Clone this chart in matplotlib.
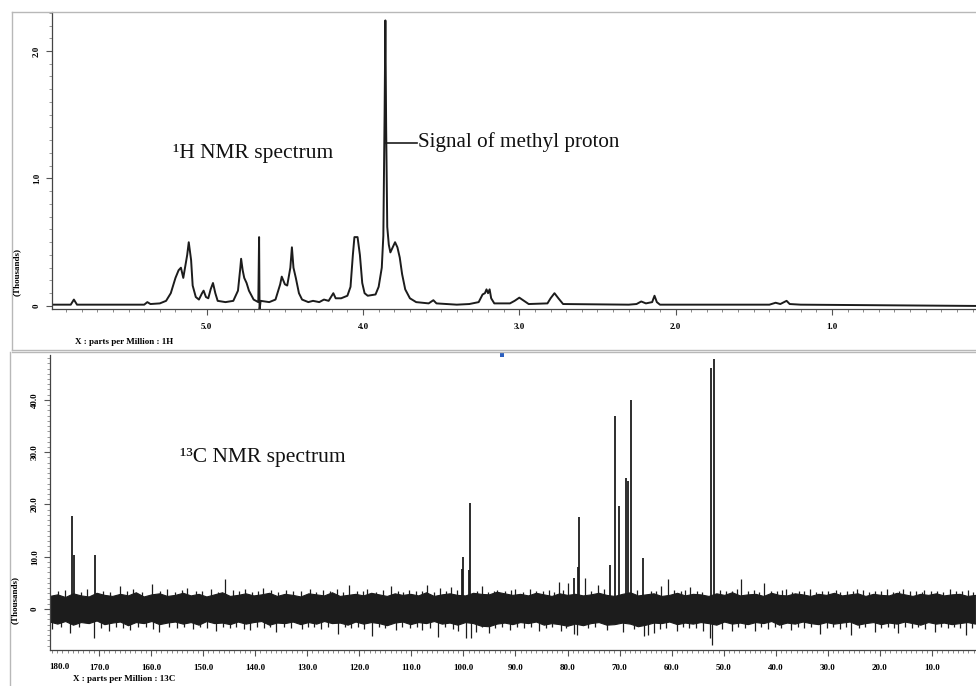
import numpy as np
import matplotlib
matplotlib.use('Agg')
import matplotlib.pyplot as plt
from matplotlib.ticker import MultipleLocator, FixedLocator, FixedFormatter
from matplotlib.patches import Rectangle
from matplotlib.lines import Line2D

plt.rcParams['font.family'] = ['Liberation Serif', 'DejaVu Serif']

# ---------------- 1H NMR trace (ppm, intensity in thousands) ----------------
h_ppm = [5.99, 5.87, 5.85, 5.83, 5.60, 5.40, 5.38, 5.36, 5.30, 5.26, 5.23, 5.20, 5.18,
         5.165, 5.15, 5.14, 5.125, 5.115, 5.10, 5.09, 5.07, 5.05, 5.03, 5.02, 5.005,
         4.99, 4.975, 4.96, 4.945, 4.93, 4.88, 4.83, 4.80, 4.785, 4.78, 4.77, 4.76,
         4.745, 4.73, 4.70, 4.67, 4.665, 4.662, 4.655, 4.60, 4.56, 4.53, 4.52, 4.50,
         4.485, 4.465, 4.455, 4.445, 4.43, 4.41, 4.39, 4.35, 4.32, 4.28, 4.25, 4.22,
         4.20, 4.19, 4.175, 4.14, 4.10, 4.08, 4.065, 4.055, 4.035, 4.02, 4.005, 3.99,
         3.97, 3.92, 3.90, 3.88, 3.87, 3.862, 3.857, 3.852, 3.845, 3.835, 3.825, 3.81,
         3.795, 3.78, 3.765, 3.75, 3.73, 3.70, 3.66, 3.58, 3.55, 3.53, 3.40, 3.32,
         3.26, 3.235, 3.22, 3.21, 3.20, 3.19, 3.18, 3.16, 3.06, 3.03, 3.00, 2.97, 2.94,
         2.82, 2.80, 2.775, 2.75, 2.72, 2.30, 2.25, 2.22, 2.19, 2.15, 2.135, 2.12, 2.10,
         1.60, 1.40, 1.36, 1.33, 1.29, 1.27, 1.20, 0.08]
h_int = [0.01, 0.01, 0.05, 0.01, 0.01, 0.01, 0.03, 0.015, 0.02, 0.04, 0.10, 0.22, 0.28,
         0.30, 0.22, 0.29, 0.40, 0.50, 0.36, 0.16, 0.07, 0.05, 0.10, 0.12, 0.07,
         0.06, 0.13, 0.18, 0.10, 0.04, 0.03, 0.04, 0.12, 0.30, 0.37, 0.28, 0.22,
         0.18, 0.12, 0.05, 0.03, 0.54, -0.03, 0.04, 0.03, 0.05, 0.17, 0.23, 0.17,
         0.16, 0.30, 0.46, 0.30, 0.22, 0.10, 0.05, 0.03, 0.04, 0.03, 0.05, 0.04,
         0.08, 0.10, 0.06, 0.06, 0.08, 0.15, 0.40, 0.54, 0.54, 0.40, 0.18, 0.10,
         0.08, 0.09, 0.15, 0.30, 0.55, 1.50, 2.24, 1.40, 0.62, 0.48, 0.42, 0.46,
         0.50, 0.46, 0.38, 0.25, 0.13, 0.06, 0.03, 0.02, 0.045, 0.02, 0.01, 0.015,
         0.03, 0.09, 0.10, 0.13, 0.10, 0.13, 0.06, 0.02, 0.02, 0.04, 0.065, 0.04, 0.015,
         0.02, 0.06, 0.10, 0.06, 0.015, 0.01, 0.015, 0.035, 0.02, 0.03, 0.08, 0.03, 0.01,
         0.01, 0.01, 0.025, 0.015, 0.04, 0.015, 0.01, 0.0]

h_xticks = [5.0, 4.0, 3.0, 2.0, 1.0]
h_xticklabels = ['5.0', '4.0', '3.0', '2.0', '1.0']
h_yticks = [0.0, 1.0, 2.0]
h_yticklabels = ['0', '1.0', '2.0']

# ---------------- 13C NMR: peaks, noise band and noise spikes ----------------
c_peak_ppm = [175.1, 174.85, 170.8, 100.0, 100.2, 98.7, 98.95, 77.8, 78.0, 78.8, 71.85,
              70.9, 70.2, 68.8, 68.45, 67.8, 65.6, 52.4, 51.8]
c_peak_h = [17.8, 10.3, 10.3, 9.9, 7.7, 20.3, 7.5, 17.6, 8.0, 6.0, 8.4,
            36.9, 19.7, 25.1, 24.5, 40.0, 9.8, 46.1, 47.8]

band_top = [2.4, 2.7, 2.2, 2.9, 2.5, 2.3, 3.0, 2.6, 2.4, 2.8, 2.5, 3.1, 2.3, 2.7, 2.9,
            2.4, 2.6, 3.0, 2.5, 2.8, 2.3, 2.7, 3.1, 2.4, 2.6, 2.9, 2.5, 2.7, 3.0, 2.4,
            2.8, 2.6, 2.3, 2.9, 2.7, 2.5, 3.1, 2.4, 2.6, 2.8, 2.5, 3.0, 2.7, 2.4, 2.9,
            2.6, 2.8, 2.5, 3.1, 2.4, 2.7, 2.9, 2.6, 2.5, 3.0, 2.8, 2.7, 3.2, 2.9, 2.6,
            2.8, 2.5, 3.0, 2.7, 2.4, 2.9, 2.6, 2.8, 2.5, 2.7, 3.0, 2.6, 2.4, 2.8, 3.1,
            2.5, 2.7, 2.9, 2.4, 2.6, 3.0, 2.5, 2.8, 2.7, 2.4, 2.9, 2.6, 3.1, 2.5, 2.7,
            2.8, 2.4, 3.0, 2.6, 2.5, 2.9, 2.7, 2.4, 2.8, 2.6, 3.0, 2.5, 2.7, 2.9, 2.4,
            2.8, 2.6, 2.5, 3.0, 2.7, 2.4, 2.8, 2.6, 2.9, 2.5, 2.7, 2.8, 2.4, 2.6]
band_bot = [-2.5, -2.9, -2.4, -3.1, -2.6, -2.8, -2.3, -3.0, -2.7, -2.5, -3.2, -2.6, -2.8,
            -2.4, -3.0, -2.7, -2.5, -2.9, -2.6, -3.1, -2.4, -2.8, -2.7, -3.0, -2.5, -2.9,
            -2.6, -2.4, -3.1, -2.7, -2.8, -2.5, -3.0, -2.6, -2.9, -2.4, -2.8, -2.7, -3.1,
            -2.5, -2.9, -2.6, -2.8, -3.2, -2.7, -2.5, -3.0, -2.6, -2.8, -2.4, -2.9, -2.7,
            -3.1, -2.6, -2.8, -3.3, -3.4, -2.9, -2.7, -3.0, -2.6, -2.8, -2.5, -3.1, -2.8,
            -3.0, -3.3, -2.9, -3.2, -2.8, -2.6, -3.1, -3.0, -2.7, -2.9, -3.4, -3.1, -2.7,
            -2.8, -2.5, -3.0, -2.7, -2.9, -2.6, -2.8, -3.1, -2.5, -2.9, -2.7, -3.0, -2.6,
            -2.8, -2.4, -3.1, -2.7, -2.9, -2.5, -2.8, -3.0, -2.6, -2.9, -2.7, -2.5, -3.1,
            -2.8, -2.6, -3.0, -2.7, -2.9, -2.5, -2.8, -3.1, -2.6, -2.9, -2.7, -3.0, -2.8,
            -2.6, -2.9]

spike_up_ppm = [177.8, 176.5, 173.5, 172.3, 169.2, 167.8, 166, 164.6, 163.5, 161.8, 159.8,
                158.2, 157, 155.3, 154.1, 153, 151.4, 150.2, 148.5, 147.1, 145.7, 144.3,
                143.1, 142, 140.6, 139.4, 138.5, 136.9, 135.6, 134, 132.7, 131.2, 129.5,
                128.3, 127, 125.6, 124.2, 123.1, 122, 120.4, 119.3, 118.5, 116.8, 115.5,
                114, 112.6, 111.6, 110.5, 109.1, 107.9, 107, 105.7, 104.5, 103.4, 102.3,
                101.2, 97.3, 96.5, 95.2, 94.1, 93.5, 92.0, 90.8, 90, 88.6, 87.3, 86.0,
                84.8, 83.5, 82.6, 81.7, 80.9, 80, 76.7, 75.5, 74.2, 73.0, 66.6, 63.9,
                63.0, 62, 60.7, 59.6, 58.3, 57.4, 56.5, 55.2, 54.1, 50.8, 49.6, 48.4,
                47.5, 46.6, 45.3, 44.2, 43.2, 42.3, 41.0, 39.8, 38.9, 38, 36.8, 35.6,
                34.5, 33.5, 32.3, 31.1, 30.0, 28.5, 27.6, 26.4, 25.2, 24.5, 23.3, 22.1,
                21.0, 19.8, 18.6, 17.4, 16.3, 15.5, 14.2, 13.0, 11.9, 11.5, 10.2, 9.0,
                7.8, 6.5, 5.3, 4.2, 3, 2.1]
spike_up_h = [3.4, 3.6, 3.3, 3.8, 3.5, 3.2, 4.4, 3.5, 3.9, 3.3, 4.7,
              3.4, 3.8, 3.3, 3.6, 4.0, 3.4, 3.5, 3.9, 3.3, 5.8, 3.6,
              3.4, 3.8, 3.3, 3.5, 4.0, 3.6, 3.3, 3.7, 3.4, 3.5, 3.9,
              3.3, 3.6, 3.4, 3.8, 3.3, 4.6, 3.5, 3.4, 3.8, 3.3, 3.6,
              4.4, 3.4, 3.3, 3.7, 3.5, 3.4, 4.6, 3.3, 4.0, 3.5, 4.2,
              3.6, 3.4, 4.4, 3.3, 3.5, 3.7, 3.4, 3.6, 3.9, 3.3, 3.8, 3.5,
              3.4, 3.6, 3.3, 5.2, 3.6, 4.9, 5.9, 3.5, 4.5, 3.8, 3.6, 3.4,
              3.5, 4.4, 5.8, 3.6, 3.4, 3.7, 4.2, 3.5, 3.3, 3.6, 3.4, 3.5,
              3.8, 5.8, 3.4, 3.6, 3.3, 5.0, 3.5, 3.4, 3.6, 3.8, 3.3, 3.5,
              3.4, 3.9, 3.3, 3.5, 3.4, 3.6, 3.3, 3.5, 3.4, 3.9, 3.6, 3.3,
              3.5, 3.4, 3.8, 3.3, 3.5, 3.8, 3.4, 3.5, 3.3, 3.6, 3.4, 3.5,
              3.3, 3.8, 3.5, 3.4, 3.7, 3.3]
spike_dn_ppm = [179, 177.2, 175.6, 173.8, 171.0, 169.6, 168, 166.7, 165.4, 164, 162.5,
                160.9, 159.7, 158.5, 156.6, 155.0, 153.7, 152, 150.6, 149.3, 147.5, 146.2,
                144.9, 143.6, 142.2, 141, 139.7, 138.3, 137.2, 136, 134.5, 133.1, 131,
                129.9, 128.6, 127.4, 126.1, 124, 122.8, 121.5, 120.2, 119.0, 117.5, 116.2,
                115.0, 113, 111.8, 110.2, 109.0, 108, 106.5, 104.8, 103.6, 102.0, 101.0,
                99.5, 98.5, 97.6, 96.4, 95, 93.9, 92.6, 91, 89.8, 88.4, 87.0, 85.5, 84.2,
                83.0, 81.3, 80.2, 78.7, 78.1, 76.0, 74.7, 72.5, 69.4, 67.3, 65.4, 64.6,
                63.4, 62.2, 61.0, 59, 57.8, 56.6, 55.3, 54.0, 52.3, 52.7, 50.3, 48.5, 47.2,
                45.9, 44, 42.8, 41.5, 40.2, 39.0, 37, 35.8, 34.6, 33.3, 31.5, 30.2, 29.0,
                27.7, 26.6, 25.5, 24.1, 22.8, 21, 19.8, 18.4, 17.3, 16.5, 15.1, 13.9,
                12.6, 11.4, 9.5, 8.3, 7.0, 5.8, 4.6, 3.5, 2.3]
spike_dn_h = [-3.8, -3.4, -4.6, -3.5, -5.6, -3.6, -4.2, -3.4, -3.7, -4.0, -3.5,
              -3.4, -3.8, -4.4, -3.5, -3.6, -3.4, -3.9, -3.5, -3.7, -4.3, -3.4,
              -3.6, -3.5, -3.8, -4.0, -3.4, -3.6, -3.5, -4.4, -3.4, -3.7, -3.9,
              -3.5, -3.4, -3.8, -3.5, -4.8, -3.4, -3.6, -3.5, -3.8, -5.2, -3.4,
              -3.6, -4.0, -3.5, -3.7, -3.4, -4.1, -3.6, -5.3, -3.5, -3.8, -4.2,
              -5.5, -5.6, -4.4, -3.5, -4.6, -3.6, -3.4, -4.0, -3.5, -3.7, -3.4, -4.3, -3.6,
              -3.5, -4.2, -3.6, -4.8, -4.9, -3.7, -3.5, -4.1, -4.4, -3.9, -5.1, -5.0,
              -4.6, -3.8, -3.6, -4.3, -3.5, -3.7, -3.6, -4.2, -6.9, -5.5, -3.8, -4.3, -3.5,
              -3.6, -4.2, -3.5, -3.8, -3.4, -3.6, -4.0, -3.5, -3.7, -3.4, -4.7, -3.6, -3.5,
              -3.8, -3.4, -4.9, -3.6, -3.5, -4.4, -3.7, -3.4, -3.6, -4.6, -3.5, -3.7,
              -3.4, -3.8, -4.4, -3.5, -3.6, -3.4, -3.7, -5.0, -3.6]

c_xticks = [170, 160, 150, 140, 130, 120, 110, 100, 90, 80, 70, 60, 50, 40, 30, 20, 10]
c_xticklabels = ['170.0', '160.0', '150.0', '140.0', '130.0', '120.0', '110.0', '100.0',
                 '90.0', '80.0', '70.0', '60.0', '50.0', '40.0', '30.0', '20.0', '10.0']
c_yticks = [0, 10, 20, 30, 40]
c_yticklabels = ['0', '10.0', '20.0', '30.0', '40.0']

# ---------------- figure ----------------
W, H = 976, 686
fig = plt.figure(figsize=(W / 100, H / 100), dpi=100)
fig.patch.set_facecolor('white')

def fx(px):
    return px / W

def fy(py):
    return 1 - py / H

ink = '#1c1c1c'
tick_font = dict(family='Liberation Serif', weight='bold', size=6.5)

# panel frames (scan borders)
frame_c = '#b8b8b8'
for (x0, y0, x1, y1) in [(12, 12, 976, 12), (12, 12, 12, 350), (12, 350, 976, 350),
                         (12, 352, 976, 352), (10, 352, 10, 686)]:
    fig.add_artist(Line2D([fx(x0), fx(x1)], [fy(y0), fy(y1)], color=frame_c, lw=1.0))
fig.add_artist(Rectangle((fx(500), fy(357)), 4 / W, 4 / H, color='#2a5fc0', lw=0))

# ---- top: 1H ----
ax1 = fig.add_axes([fx(52), fy(309), 1 - fx(52), (309 - 12) / H])
ax1.plot(h_ppm, h_int, color=ink, lw=1.4, solid_joinstyle='round')
ax1.set_xlim(5.99, 0.078)
ax1.set_ylim(-0.024, 2.306)
for s in ['top', 'right']:
    ax1.spines[s].set_visible(False)
for s in ['left', 'bottom']:
    ax1.spines[s].set_color('#444444')
    ax1.spines[s].set_linewidth(0.9)
ax1.xaxis.set_major_locator(FixedLocator(h_xticks))
ax1.xaxis.set_major_formatter(FixedFormatter(h_xticklabels))
ax1.xaxis.set_minor_locator(MultipleLocator(0.1))
ax1.yaxis.set_major_locator(FixedLocator(h_yticks))
ax1.yaxis.set_major_formatter(FixedFormatter(h_yticklabels))
ax1.yaxis.set_minor_locator(MultipleLocator(0.1))
ax1.tick_params(axis='x', which='major', length=4, width=0.8, color='#555555', pad=6)
ax1.tick_params(axis='x', which='minor', length=2, width=0.6, color='#777777')
ax1.tick_params(axis='y', which='major', length=4, width=0.8, color='#555555', pad=4)
ax1.tick_params(axis='y', which='minor', length=2, width=0.6, color='#888888')
for lab in ax1.get_xticklabels():
    lab.set_fontproperties(tick_font)
for lab in ax1.get_yticklabels():
    lab.set_fontproperties(tick_font)
    lab.set_rotation(90)
    lab.set_va('center')

fig.text(fx(17), fy(272), '(Thousands)', rotation=90, ha='center', va='center', **tick_font)
fig.text(fx(75), fy(342), 'X : parts per Million : 1H', ha='left', va='center', **tick_font)

ax1.text(0.1305, 0.525, '\u00b9H NMR spectrum', transform=ax1.transAxes, fontsize=15.5,
         family='Liberation Serif', ha='left', va='center', color='#111111')
fig.add_artist(Line2D([fx(386), fx(417)], [fy(143), fy(143)], color=ink, lw=1.2))
fig.text(fx(418), fy(142), 'Signal of methyl proton', fontsize=15.2, family='Liberation Serif',
         ha='left', va='center', color='#111111')

# ---- bottom: 13C ----
ax2 = fig.add_axes([fx(50), fy(650), 1 - fx(50), (650 - 355) / H])
top_x = np.linspace(179.4, 1.6, len(band_top))
bot_x = np.linspace(179.4, 1.6, len(band_bot))
ax2.fill(np.concatenate([top_x, bot_x[::-1]]), np.concatenate([band_top, band_bot[::-1]]),
         color=ink, lw=0.8, ec=ink)
ax2.vlines(spike_up_ppm, 0, spike_up_h, color=ink, lw=0.9)
ax2.vlines(spike_dn_ppm, 0, spike_dn_h, color=ink, lw=0.9)
ax2.vlines(c_peak_ppm, 0, c_peak_h, color=ink, lw=1.3)
ax2.set_xlim(179.4, 1.55)
ax2.set_ylim(-7.85, 48.6)
for s in ['top', 'right']:
    ax2.spines[s].set_visible(False)
for s in ['left', 'bottom']:
    ax2.spines[s].set_color('#444444')
    ax2.spines[s].set_linewidth(0.9)
ax2.xaxis.set_major_locator(FixedLocator(c_xticks))
ax2.xaxis.set_major_formatter(FixedFormatter(c_xticklabels))
ax2.xaxis.set_minor_locator(MultipleLocator(1))
ax2.yaxis.set_major_locator(FixedLocator(c_yticks))
ax2.yaxis.set_major_formatter(FixedFormatter(c_yticklabels))
ax2.yaxis.set_minor_locator(MultipleLocator(1))
ax2.tick_params(axis='x', which='major', length=4, width=0.8, color='#555555', pad=6)
ax2.tick_params(axis='x', which='minor', length=2, width=0.6, color='#777777')
ax2.tick_params(axis='y', which='major', length=4, width=0.8, color='#555555', pad=4)
ax2.tick_params(axis='y', which='minor', length=2, width=0.6, color='#888888')
for lab in ax2.get_xticklabels():
    lab.set_fontproperties(tick_font)
for lab in ax2.get_yticklabels():
    lab.set_fontproperties(tick_font)
    lab.set_rotation(90)
    lab.set_va('center')
ax2.text(177.6, -0.045, '180.0', transform=ax2.get_xaxis_transform(), ha='center', va='top',
         **tick_font)

fig.text(fx(15), fy(600), '(Thousands)', rotation=90, ha='center', va='center', **tick_font)
fig.text(fx(73), fy(679), 'X : parts per Million : 13C', ha='left', va='center', **tick_font)
ax2.text(0.14, 0.654, '\u00b9\u00b3C NMR spectrum', transform=ax2.transAxes, fontsize=15.5,
         family='Liberation Serif', ha='left', va='center', color='#111111')

fig.savefig('out.png', dpi=100, facecolor='white')
